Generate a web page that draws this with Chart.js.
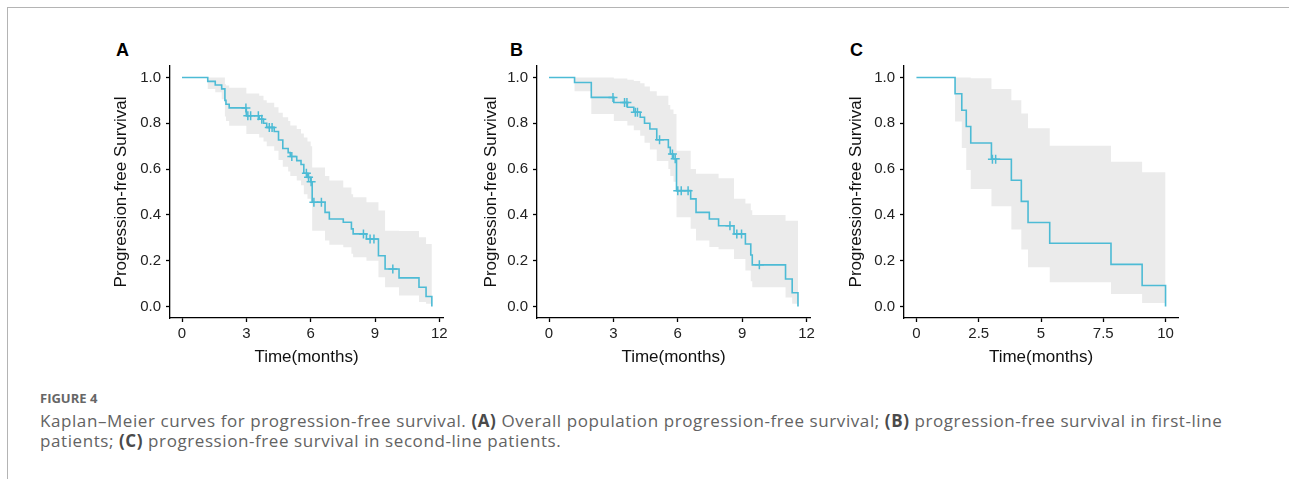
<!DOCTYPE html>
<html>
<head>
<meta charset="utf-8">
<script src="https://cdn.jsdelivr.net/npm/chart.js@4/dist/chart.umd.min.js"></script>
<style>
  html, body { margin: 0; background: #fff; }
  #page { position: relative; width: 1289px; height: 479px; overflow: hidden; }
  .frame { position: absolute; left: 7px; top: 7px; right: -2px; bottom: -2px;
           border-top: 1px solid #b4b4b4; border-left: 1px solid #b4b4b4; }
  .panel { position: absolute; top: 30px; width: 360px; height: 340px; }
  .tag { position: absolute; top: 41px; font: bold 18px/18px "Liberation Sans", Arial, sans-serif; color: #000; }
  .fig { position: absolute; left: 40px; top: 391px; font: 700 13px/15.6px "Open Sans", sans-serif; color: #666; }
  .cap { position: absolute; left: 40px; font: 400 17px/19.5px "Open Sans", sans-serif;
         color: #636363; white-space: nowrap; }
  .cap b { color: #4a4a4a; font-weight: 700; }
</style>
</head>
<body>
<div id="page">
  <div class="frame"></div>
  <div class="tag" style="left:116px">A</div>
  <div class="tag" style="left:510px">B</div>
  <div class="tag" style="left:850px">C</div>
  <canvas id="chartA" class="panel" style="left:100px" width="360" height="340"></canvas>
  <canvas id="chartB" class="panel" style="left:470px" width="360" height="340"></canvas>
  <canvas id="chartC" class="panel" style="left:835px" width="360" height="340"></canvas>
  <div class="fig">FIGURE 4</div>
  <div class="cap" id="cap1" style="top:411px">Kaplan–Meier curves for progression-free survival. <b>(A)</b> Overall population progression-free survival; <b>(B)</b> progression-free survival in first-line</div>
  <div class="cap" id="cap2" style="top:430.5px">patients; <b>(C)</b> progression-free survival in second-line patients.</div>
</div>

<script>
const lineColor = "#4DBBD5";
const bandColor = "#EBEBEB";

const yTicks = [0, 0.2, 0.4, 0.6, 0.8, 1.0];
const yTickLabels = ["0.0", "0.2", "0.4", "0.6", "0.8", "1.0"];

// ---------- A: overall population ----------
const timesA = [0, 1.2, 1.55, 1.85, 2.0, 2.05, 2.2, 3.0, 3.6, 3.8, 3.95, 4.3, 4.5, 4.7, 4.95, 5.05, 5.35, 5.55, 5.68, 5.85,
                6.0, 6.07, 6.67, 6.87, 7.52, 7.9, 7.98, 8.6, 9.16, 9.47, 10.12, 11.05, 11.38, 11.65];
const survA = [1, 0.983, 0.967, 0.95, 0.90, 0.883, 0.867, 0.833, 0.818, 0.80, 0.782, 0.764, 0.727, 0.69, 0.672, 0.655, 0.637, 0.62, 0.582, 0.564,
               0.545, 0.455, 0.411, 0.382, 0.368, 0.339, 0.317, 0.295, 0.222, 0.164, 0.125, 0.084, 0.044, 0];
const upperA = [1, 1, 1, 1, 0.97, 0.965, 0.955, 0.93, 0.92, 0.90, 0.89, 0.87, 0.846, 0.826, 0.81, 0.79, 0.775, 0.755, 0.738, 0.72,
                0.70, 0.607, 0.57, 0.55, 0.52, 0.49, 0.477, 0.455, 0.419, 0.331, 0.33, 0.302, 0.273, 0.273];
const lowerA = [1, 0.95, 0.935, 0.905, 0.83, 0.81, 0.789, 0.753, 0.738, 0.72, 0.70, 0.68, 0.64, 0.61, 0.59, 0.57, 0.55, 0.53, 0.49, 0.47,
                0.45, 0.331, 0.288, 0.27, 0.259, 0.23, 0.215, 0.2, 0.128, 0.084, 0.048, 0.02, 0.012, 0.012];
const censorA = [2.98, 3.07, 3.2, 3.56, 3.72, 4.07, 4.2, 5.12, 5.8, 5.9, 6.02, 6.15, 6.5, 8.46, 8.77, 8.95, 9.83];
const xTicksA = [0, 3, 6, 9, 12];
const xTickLabelsA = ["0", "3", "6", "9", "12"];

// ---------- B: first-line patients ----------
const timesB = [0, 1.19, 1.97, 3.02, 3.65, 3.95, 4.25, 4.45, 4.7, 5.02, 5.56, 5.65, 5.8, 5.94, 6.6, 6.85, 7.47, 7.9, 8.62, 9.15,
                9.4, 9.47, 11.02, 11.33, 11.6];
const survB = [1, 0.978, 0.913, 0.891, 0.87, 0.848, 0.826, 0.80, 0.775, 0.728, 0.695, 0.666, 0.645, 0.506, 0.47, 0.411, 0.382, 0.353, 0.317, 0.273,
               0.225, 0.182, 0.12, 0.06, 0];
const upperB = [1, 1, 1, 0.995, 0.99, 0.985, 0.975, 0.96, 0.94, 0.92, 0.88, 0.86, 0.84, 0.68, 0.6, 0.58, 0.58, 0.56, 0.47, 0.45,
                0.42, 0.40, 0.375, 0.375, 0.375];
const lowerB = [1, 0.94, 0.84, 0.81, 0.79, 0.77, 0.745, 0.715, 0.685, 0.635, 0.60, 0.57, 0.545, 0.39, 0.34, 0.288, 0.26, 0.25, 0.208, 0.157,
                0.11, 0.084, 0.04, 0.012, 0.012];
const censorB = [2.98, 3.52, 3.63, 4.02, 4.12, 5.15, 5.75, 5.88, 6.0, 6.16, 6.48, 8.43, 8.75, 8.97, 9.8];
const xTicksB = [0, 3, 6, 9, 12];
const xTickLabelsB = ["0", "3", "6", "9", "12"];

// ---------- C: second-line patients ----------
const timesC = [0, 1.55, 1.82, 2.0, 2.18, 3.01, 3.81, 4.21, 4.48, 5.35, 7.81, 9.06, 10.0];
const survC = [1, 0.929, 0.857, 0.786, 0.714, 0.643, 0.551, 0.459, 0.367, 0.276, 0.184, 0.092, 0];
const upperC = [1, 1, 1, 1, 0.997, 0.95, 0.90, 0.843, 0.778, 0.702, 0.632, 0.586, 0.586];
const lowerC = [1, 0.808, 0.692, 0.596, 0.513, 0.4375, 0.336, 0.249, 0.172, 0.106, 0.055, 0.015, 0.015];
const censorC = [3.05, 3.18];
const xTicksC = [0, 2.5, 5, 7.5, 10];
const xTickLabelsC = ["0", "2.5", "5", "7.5", "10"];

// survival value in force at time t (for placing censor marks on the curve)
function survAt(times, surv, t) {
  let k = 0;
  for (let i = 0; i < times.length; i++) if (times[i] <= t) k = i;
  return surv[k];
}

const tickFont = { family: "'Liberation Sans', Arial, sans-serif", size: 15 };
const titleFont = { family: "'Liberation Sans', Arial, sans-serif", size: 17, lineHeight: 1.2 };
const axisLine = { display: true, color: "#000", width: 1.3 };
const tickMarks = { display: true, drawOnChartArea: false, drawTicks: true, tickLength: 4, tickColor: "#000", tickWidth: 1.3 };

function drawKM(id, times, surv, upper, lower, censor, xTicks, xLabels, box) {
  const pts = (ys) => times.map((t, i) => ({ x: t, y: ys[i] }));
  new Chart(document.getElementById(id), {
    type: "line",
    data: {
      datasets: [
        { data: pts(upper), stepped: "before", fill: "+1", backgroundColor: bandColor, borderColor: "transparent", borderWidth: 0, pointRadius: 0, order: 3 },
        { data: pts(lower), stepped: "before", fill: false, borderColor: "transparent", borderWidth: 0, pointRadius: 0, order: 3 },
        { data: pts(surv), stepped: "before", fill: false, borderColor: lineColor, borderWidth: 1.6, pointRadius: 0, order: 2 },
        { type: "scatter", data: censor.map((t) => ({ x: t, y: survAt(times, surv, t) })),
          pointStyle: "cross", pointRadius: 4.5, borderColor: lineColor, backgroundColor: lineColor, borderWidth: 1.5, order: 1 },
      ],
    },
    options: {
      responsive: false, animation: false, devicePixelRatio: 1,
      layout: { padding: { left: 11, top: 36, right: box.right, bottom: 2 } },
      plugins: { legend: { display: false }, tooltip: { enabled: false }, filler: { drawTime: "beforeDatasetsDraw" } },
      scales: {
        x: {
          type: "linear", min: box.xMin, max: box.xMax,
          afterBuildTicks: (s) => { s.ticks = xTicks.map((v) => ({ value: v })); },
          afterFit: (s) => { s.height = 50; },
          ticks: { callback: (v, i) => xLabels[i], font: tickFont, color: "#222", padding: 3, maxRotation: 0, autoSkip: false },
          grid: tickMarks, border: axisLine,
          title: { display: true, text: "Time(months)", font: titleFont, color: "#111", padding: 0 },
        },
        y: {
          min: -0.05, max: 1.05,
          afterBuildTicks: (s) => { s.ticks = yTicks.map((v) => ({ value: v })); },
          afterFit: (s) => { s.width = box.yWidth; },
          ticks: { callback: (v, i) => yTickLabels[i], font: tickFont, color: "#222", padding: 5, autoSkip: false },
          grid: tickMarks, border: axisLine,
          title: { display: true, text: "Progression-free Survival", font: titleFont, color: "#111", padding: 0 },
        },
      },
    },
  });
}

drawKM("chartA", timesA, survA, upperA, lowerA, censorA, xTicksA, xTickLabelsA, { right: 17, yWidth: 59, xMin: -0.56, xMax: 12.17 });
drawKM("chartB", timesB, survB, upperB, lowerB, censorB, xTicksB, xTickLabelsB, { right: 20, yWidth: 56, xMin: -0.56, xMax: 12.16 });
drawKM("chartC", timesC, survC, upperC, lowerC, censorC, xTicksC, xTickLabelsC, { right: 17, yWidth: 58, xMin: -0.5, xMax: 10.5 });

// caption: stretch letter spacing so the first line ends where the reference's does
const cap1 = document.getElementById("cap1");
const cap2 = document.getElementById("cap2");
const ls = (1182 - cap1.getBoundingClientRect().width) / cap1.textContent.length;
cap1.style.letterSpacing = cap2.style.letterSpacing = ls.toFixed(2) + "px";
</script>
</body>
</html>
